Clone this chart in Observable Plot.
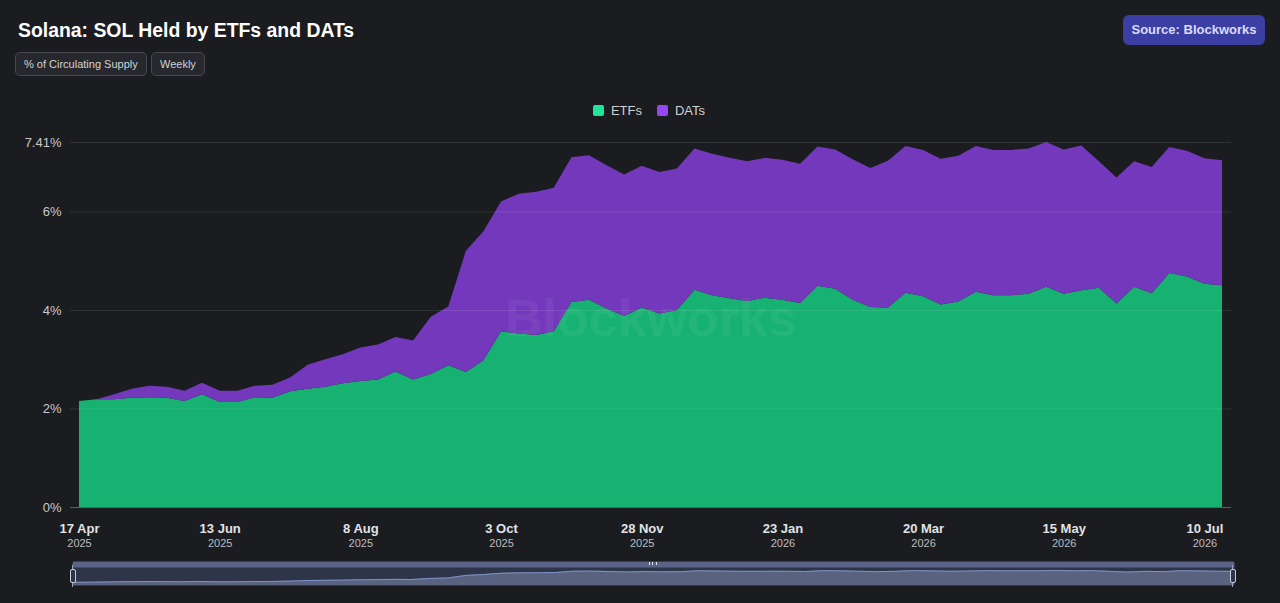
<!DOCTYPE html>
<html><head><meta charset="utf-8">
<script src="https://cdn.jsdelivr.net/npm/d3@7"></script>
<script src="https://cdn.jsdelivr.net/npm/@observablehq/plot@0.6"></script>
<style>
html,body{margin:0;padding:0;background:#1b1c20;}
#wrap{position:relative;width:1280px;height:603px;overflow:hidden;font-family:"Liberation Sans",Arial,Helvetica,sans-serif;}
#main{position:absolute;left:0;top:0;}
#nav{position:absolute;left:0;top:555px;}
.title{position:absolute;left:18px;top:19px;font-size:19.4px;font-weight:bold;color:#fff;white-space:nowrap;}
.btn{position:absolute;top:52px;height:22px;line-height:22px;border:1px solid #47494f;background:#27282d;border-radius:5px;color:#d2d2d4;font-size:11px;padding:0 8px;box-sizing:content-box;white-space:nowrap;}
.source{position:absolute;left:1123px;top:15px;width:142px;height:30px;line-height:30px;text-align:center;background:#3b3fa3;border-radius:6px;color:#dcdcf8;font-size:13px;font-weight:bold;white-space:nowrap;}
.legend{position:absolute;left:0;width:1298px;top:103px;display:flex;justify-content:center;gap:15px;font-size:13px;color:#d0d0d2;}
.legend span.item{display:flex;align-items:center;gap:7px;}
.legend span.sw{width:11px;height:11px;border-radius:2px;display:inline-block;}
.handle{position:absolute;top:569px;width:4px;height:12px;border:1px solid #c9ccd6;border-radius:2px;background:#2e3548;}
.hline{position:absolute;top:565px;width:1px;height:22px;background:#9aa0b4;}
.grip{position:absolute;left:649px;top:562px;width:6px;height:3px;border-left:1px solid #e0e0e8;border-right:1px solid #e0e0e8;}
.grip:after{content:"";position:absolute;left:2px;top:0;width:1px;height:3px;background:#e0e0e8;}
</style></head>
<body><div id="wrap"></div>
<script>
// ---- data ----
const startDate = "2025-04-18"; // weekly observations
const series = ["ETFs", "DATs"];
const seriesColors = ["#17b172", "#7438bc"];
const legendColors = ["#1fe59b", "#9447f0"];
const etfs = [2.15,2.19,2.19,2.22,2.23,2.22,2.15,2.29,2.13,2.13,2.23,2.22,2.35,2.40,2.44,2.51,2.56,2.59,2.75,2.59,
  2.70,2.88,2.74,2.98,3.57,3.52,3.49,3.57,4.16,4.21,4.03,3.88,4.05,3.93,4.00,4.41,4.30,4.24,4.18,4.25,
  4.21,4.14,4.49,4.43,4.21,4.06,4.05,4.35,4.28,4.11,4.17,4.37,4.30,4.30,4.33,4.47,4.33,4.40,4.45,4.13,
  4.47,4.34,4.75,4.68,4.53,4.50];
const dats = [0.00,0.00,0.10,0.18,0.23,0.22,0.21,0.23,0.23,0.23,0.23,0.26,0.28,0.49,0.56,0.59,0.68,0.71,0.70,0.79,
  1.16,1.19,2.46,2.62,2.63,2.84,2.91,2.91,2.94,2.93,2.91,2.87,2.88,2.87,2.87,2.87,2.87,2.85,2.84,2.84,
  2.84,2.83,2.83,2.83,2.85,2.82,2.98,2.98,2.97,2.96,2.96,2.96,2.95,2.95,2.95,2.94,2.93,2.94,2.57,2.56,
  2.55,2.56,2.56,2.55,2.55,2.54];
const tickDates = ["2025-04-18","2025-06-13","2025-08-08","2025-10-03","2025-11-28","2026-01-23","2026-03-20","2026-05-15","2026-07-10"];
const tickLabels = ["17 Apr","13 Jun","8 Aug","3 Oct","28 Nov","23 Jan","20 Mar","15 May","10 Jul"];
const tickYears = ["2025","2025","2025","2025","2025","2026","2026","2026","2026"];
const yTicks = [0, 2, 4, 6, 7.41];
const yLabels = ["0%", "2%", "4%", "6%", "7.41%"];

// ---- build tables ----
const start = new Date(startDate + "T00:00:00Z");
const dates = etfs.map((_, i) => d3.utcDay.offset(start, 7 * i));
const rows = [];
series.forEach((s, k) => {
  const vals = k === 0 ? etfs : dats;
  vals.forEach((v, i) => rows.push({date: dates[i], series: s, value: v}));
});
const totals = dates.map((d, i) => ({date: d, total: etfs[i] + dats[i]}));
const xRows = tickDates.map((d, i) => ({date: new Date(d + "T00:00:00Z"), label: tickLabels[i], year: tickYears[i]}));
const yRows = yTicks.map((v, i) => ({v, label: yLabels[i]}));
const xDomain = [dates[0], dates[dates.length - 1]];
const font = "'Liberation Sans', Arial, Helvetica, sans-serif";

const main = Plot.plot({
  width: 1280, height: 555,
  marginTop: 142, marginBottom: 48, marginLeft: 79, marginRight: 58,
  x: {type: "utc", domain: xDomain, axis: null},
  y: {domain: [0, 7.41], axis: null},
  color: {domain: series, range: seriesColors},
  style: {background: "transparent", fontFamily: font, overflow: "visible"},
  marks: [
    Plot.areaY(rows, {x: "date", y: "value", fill: "series", order: series}),
    Plot.text(["Blockworks"], {frameAnchor: "middle", dy: -6, fontSize: 52, fontWeight: "bold", fill: "#ffffff", fillOpacity: 0.055}),
    Plot.ruleY(yTicks.filter(d => d > 0), {stroke: "#ffffff", strokeOpacity: 0.1, insetLeft: -9, insetRight: -9}),
    Plot.ruleY([0], {stroke: "#5e5f64", insetLeft: -9, insetRight: -9}),
    Plot.text(yRows, {y: "v", text: "label", frameAnchor: "left", textAnchor: "end", dx: -18, fill: "#c9c9cc", fontSize: 13}),
    Plot.text(xRows, {x: "date", text: "label", frameAnchor: "bottom", lineAnchor: "top", dy: 16, fontWeight: "bold", fontSize: 13, fill: "#e2e2e4"}),
    Plot.text(xRows, {x: "date", text: "year", frameAnchor: "bottom", lineAnchor: "top", dy: 32, fontSize: 11, fill: "#bdbdc0"})
  ]
});
main.id = "main";

const navMin = 0.7, navMax = 8.75;
const nav = Plot.plot({
  width: 1280, height: 48,
  marginTop: 12, marginBottom: 18, marginLeft: 72, marginRight: 46,
  x: {type: "utc", domain: xDomain, axis: null},
  y: {domain: [navMin, navMax], axis: null},
  style: {background: "transparent", overflow: "visible"},
  marks: [
    Plot.frame({fill: "#5b6388", insetTop: -6, rx: 2}),
    Plot.frame({fill: "#2e3548"}),
    Plot.areaY(totals, {x: "date", y1: navMin, y2: "total", fill: "#59627e"}),
    Plot.lineY(totals, {x: "date", y: "total", stroke: "#7f93c6", strokeWidth: 1})
  ]
});
nav.id = "nav";

const wrap = document.getElementById("wrap");
wrap.appendChild(main);
wrap.appendChild(nav);

function div(cls, html, style) {
  const e = document.createElement("div");
  e.className = cls;
  if (html) e.innerHTML = html;
  if (style) e.setAttribute("style", style);
  wrap.appendChild(e);
  return e;
}
div("title", "Solana: SOL Held by ETFs and DATs");
div("btn", "% of Circulating Supply", "left:15px;");
div("btn", "Weekly", "left:151px;");
div("source", "Source: Blockworks");
const leg = div("legend");
series.forEach((s, k) => {
  const it = document.createElement("span");
  it.className = "item";
  it.innerHTML = `<span class="sw" style="background:${legendColors[k]}"></span>${s}`;
  leg.appendChild(it);
});
div("hline", "", "left:72px;");
div("handle", "", "left:70px;");
div("hline", "", "left:1232px;");
div("handle", "", "left:1230px;");
div("grip");
</script>
</body></html>
